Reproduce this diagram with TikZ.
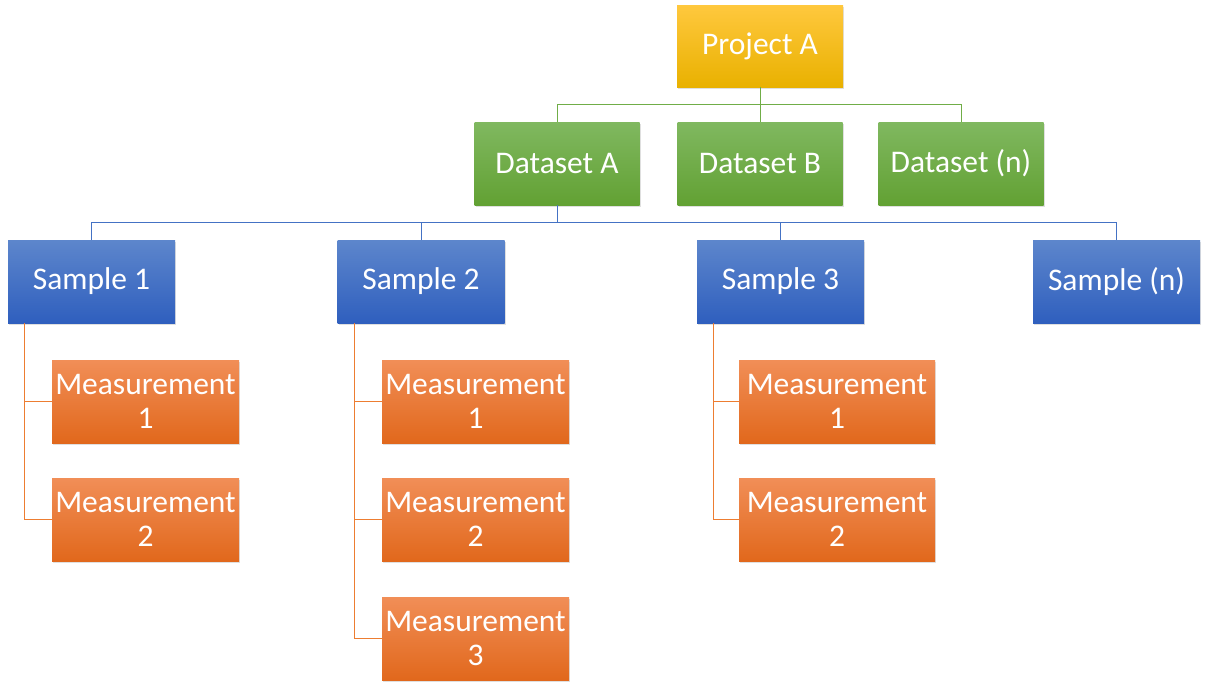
\documentclass[tikz,border=0pt]{standalone}
\usepackage{fontspec}
\setmainfont{Carlito}
\usetikzlibrary{shadows}
\definecolor{goldT}{HTML}{FFC83E}
\definecolor{goldB}{HTML}{E9B100}
\definecolor{greenT}{HTML}{80B860}
\definecolor{greenB}{HTML}{62A133}
\definecolor{blueT}{HTML}{5D86CC}
\definecolor{blueB}{HTML}{2F5FBE}
\definecolor{orT}{HTML}{F18E57}
\definecolor{orB}{HTML}{E1681C}
\definecolor{gline}{HTML}{70AD47}
\definecolor{bline}{HTML}{4472C4}
\definecolor{oline}{HTML}{ED7D31}
\tikzset{
  box/.style={rectangle, text=white, align=center, inner sep=0pt,
    minimum height=83pt, font=\fontsize{31.5}{34.5}\selectfont,
    drop shadow={opacity=0.25, shadow xshift=1.2pt, shadow yshift=-1.5pt}},
  projbox/.style={box, top color=goldT, bottom color=goldB, minimum width=166pt, minimum height=82pt},
  dsbox/.style={box, top color=greenT, bottom color=greenB, minimum width=165pt},
  smpbox/.style={box, top color=blueT, bottom color=blueB, minimum width=167pt},
  measbox/.style={box, top color=orT, bottom color=orB, minimum width=187pt},
  gconn/.style={draw=gline, line width=1pt},
  bconn/.style={draw=bline, line width=1pt},
  oconn/.style={draw=oline, line width=1pt},
}
\begin{document}
\begin{tikzpicture}[x=1pt,y=-1pt]
\useasboundingbox (0,0) rectangle (1210,699);
% nodes
\node[projbox] (proj) at (760,46) {Project A};
\node[dsbox] (dsA) at (557,163.5) {Dataset A};
\node[dsbox] (dsB) at (760,163.5) {Dataset B};
\node[dsbox] (dsN) at (961,163.5) {Dataset (n)};
\node[smpbox] (s1) at (91.5,281.5) {Sample 1};
\node[smpbox] (s2) at (421,281.5) {Sample 2};
\node[smpbox] (s3) at (780.5,281.5) {Sample 3};
\node[smpbox] (sn) at (1116.5,281.5) {Sample (n)};
\node[measbox] (m11) at (145.5,401.5) {Measurement\\1};
\node[measbox] (m12) at (145.5,519.5) {Measurement\\2};
\node[measbox] (m21) at (475.5,401.5) {Measurement\\1};
\node[measbox] (m22) at (475.5,519.5) {Measurement\\2};
\node[measbox] (m23) at (475.5,638.5) {Measurement\\3};
\node[measbox, minimum width=196pt] (m31) at (837,401.5) {Measurement\\1};
\node[measbox, minimum width=196pt] (m32) at (837,519.5) {Measurement\\2};
% connectors
\draw[gconn] (proj.south) -- ++(0,17.5) -| (dsA.north);
\draw[gconn] (proj.south) -- (dsB.north);
\draw[gconn] (proj.south) -- ++(0,17.5) -| (dsN.north);
\draw[bconn] (dsA.south) -- ++(0,17.5) -| (s1.north);
\draw[bconn] (dsA.south) -- ++(0,17.5) -| (s2.north);
\draw[bconn] (dsA.south) -- ++(0,17.5) -| (s3.north);
\draw[bconn] (dsA.south) -- ++(0,17.5) -| (sn.north);
\draw[oconn] ([xshift=17pt]s1.south west) |- (m11.west);
\draw[oconn] ([xshift=17pt]s1.south west) |- (m12.west);
\draw[oconn] ([xshift=17pt]s2.south west) |- (m21.west);
\draw[oconn] ([xshift=17pt]s2.south west) |- (m22.west);
\draw[oconn] ([xshift=17pt]s2.south west) |- (m23.west);
\draw[oconn] ([xshift=17pt]s3.south west) |- (m31.west);
\draw[oconn] ([xshift=17pt]s3.south west) |- (m32.west);
\end{tikzpicture}
\end{document}
